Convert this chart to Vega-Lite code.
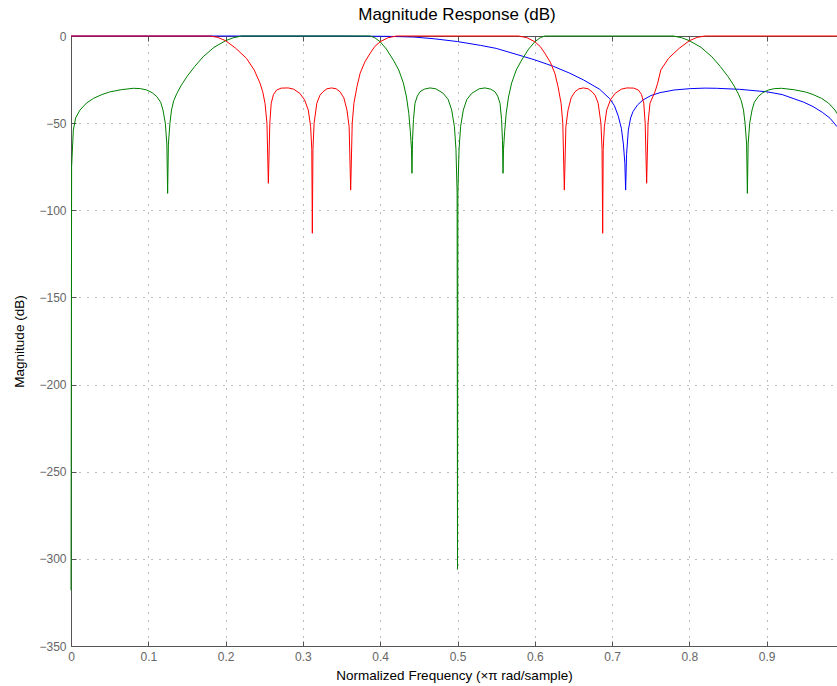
{
  "$schema": "https://vega.github.io/schema/vega-lite/v6.json",
  "width": 766,
  "height": 610,
  "autosize": "none",
  "padding": {"left": 71, "top": 36, "right": 0, "bottom": 40},
  "background": "white",
  "title": {"text": "Magnitude Response (dB)", "fontSize": 17, "font": "Liberation Sans", "fontWeight": "normal", "color": "black", "baseline": "alphabetic", "offset": -7, "dx": 3},
  "config": {"view": {"stroke": null}},
  "datasets": {
    "blue": [
      {"f":0,"m":0},{"f":0.1,"m":0},{"f":0.2,"m":0},{"f":0.3,"m":0},{"f":0.35,"m":0},{"f":0.38,"m":-0.1},{"f":0.41,"m":-0.2},{"f":0.4437,"m":-0.6},{"f":0.47,"m":-1.6},{"f":0.5,"m":-3.2},{"f":0.53,"m":-5.4},{"f":0.55,"m":-7.1},{"f":0.585,"m":-11.7},{"f":0.6,"m":-13.7},{"f":0.624,"m":-17.4},{"f":0.645,"m":-21.3},{"f":0.663,"m":-25.2},{"f":0.684,"m":-30.6},{"f":0.697,"m":-36},{"f":0.703,"m":-40},{"f":0.708,"m":-46},{"f":0.712,"m":-53},{"f":0.7146,"m":-62},{"f":0.7165,"m":-73},{"f":0.7175,"m":-88.4},{"f":0.7187,"m":-68},{"f":0.721,"m":-54},{"f":0.724,"m":-47},{"f":0.727,"m":-43.4},{"f":0.733,"m":-39.5},{"f":0.74,"m":-36.7},{"f":0.75,"m":-34.2},{"f":0.762,"m":-32.5},{"f":0.78,"m":-31},{"f":0.801,"m":-30.2},{"f":0.82,"m":-29.9},{"f":0.835,"m":-30},{"f":0.865,"m":-30.6},{"f":0.9,"m":-32},{"f":0.92,"m":-33.6},{"f":0.934,"m":-35.8},{"f":0.948,"m":-38},{"f":0.96,"m":-40.5},{"f":0.972,"m":-43.8},{"f":0.982,"m":-47.2},{"f":0.9909,"m":-52}
    ],
    "green": [
      {"f":0,"m":-318},{"f":0.0008,"m":-75},{"f":0.003,"m":-54},{"f":0.006,"m":-47},{"f":0.0116,"m":-42.5},{"f":0.02,"m":-38.5},{"f":0.029,"m":-35.8},{"f":0.04,"m":-33.6},{"f":0.05,"m":-32.1},{"f":0.065,"m":-30.8},{"f":0.081,"m":-30},{"f":0.09,"m":-30.2},{"f":0.098,"m":-31},{"f":0.105,"m":-32.5},{"f":0.111,"m":-34.8},{"f":0.116,"m":-38},{"f":0.119,"m":-42.5},{"f":0.122,"m":-50},{"f":0.124,"m":-62},{"f":0.125,"m":-90.3},{"f":0.126,"m":-62},{"f":0.128,"m":-50},{"f":0.13,"m":-42.5},{"f":0.133,"m":-37},{"f":0.137,"m":-32.9},{"f":0.143,"m":-28},{"f":0.15,"m":-23.3},{"f":0.16,"m":-17.5},{"f":0.171,"m":-11.9},{"f":0.185,"m":-6.5},{"f":0.2,"m":-2.7},{"f":0.21,"m":-1},{"f":0.221,"m":0},{"f":0.3,"m":0},{"f":0.387,"m":0},{"f":0.393,"m":-1},{"f":0.4,"m":-3.3},{"f":0.408,"m":-7.5},{"f":0.417,"m":-13.8},{"f":0.424,"m":-19.5},{"f":0.43,"m":-27},{"f":0.434,"m":-35},{"f":0.437,"m":-44.4},{"f":0.439,"m":-55},{"f":0.4405,"m":-65},{"f":0.4411,"m":-78.8},{"f":0.4418,"m":-60},{"f":0.443,"m":-48},{"f":0.445,"m":-38.6},{"f":0.448,"m":-34.5},{"f":0.4515,"m":-32},{"f":0.457,"m":-30.5},{"f":0.4644,"m":-29.8},{"f":0.472,"m":-30.3},{"f":0.4816,"m":-32.9},{"f":0.488,"m":-36.5},{"f":0.4925,"m":-42.5},{"f":0.496,"m":-52},{"f":0.498,"m":-65},{"f":0.4995,"m":-90},{"f":0.5,"m":-306},
      {"f":0.5005,"m":-90},{"f":0.502,"m":-65},{"f":0.504,"m":-52},{"f":0.5075,"m":-42.5},{"f":0.512,"m":-36.5},{"f":0.5184,"m":-32.9},{"f":0.528,"m":-30.3},{"f":0.5356,"m":-29.8},{"f":0.543,"m":-30.5},{"f":0.5485,"m":-32},{"f":0.552,"m":-34.5},{"f":0.555,"m":-38.6},{"f":0.557,"m":-48},{"f":0.5582,"m":-60},{"f":0.5589,"m":-78.8},{"f":0.5595,"m":-65},{"f":0.561,"m":-55},{"f":0.563,"m":-44.4},{"f":0.566,"m":-35},{"f":0.57,"m":-27},{"f":0.576,"m":-19.5},{"f":0.583,"m":-13.8},{"f":0.592,"m":-7.5},{"f":0.6,"m":-3.3},{"f":0.607,"m":-1},{"f":0.613,"m":0},{"f":0.7,"m":0},{"f":0.779,"m":0},{"f":0.79,"m":-1},{"f":0.8,"m":-2.7},{"f":0.815,"m":-6.5},{"f":0.829,"m":-11.9},{"f":0.84,"m":-17.5},{"f":0.85,"m":-23.3},{"f":0.857,"m":-28},{"f":0.863,"m":-32.9},{"f":0.867,"m":-37},{"f":0.87,"m":-42.5},{"f":0.872,"m":-50},{"f":0.874,"m":-62},{"f":0.875,"m":-90.3},{"f":0.876,"m":-62},{"f":0.878,"m":-50},{"f":0.881,"m":-42.5},{"f":0.884,"m":-38},{"f":0.889,"m":-34.8},{"f":0.895,"m":-32.5},{"f":0.902,"m":-31},{"f":0.91,"m":-30.2},{"f":0.919,"m":-30},{"f":0.935,"m":-30.8},{"f":0.95,"m":-32.1},{"f":0.96,"m":-33.6},{"f":0.971,"m":-35.8},{"f":0.98,"m":-38.5},{"f":0.9884,"m":-42.5},{"f":0.9909,"m":-44.5}
    ],
    "red": [
      {"f":0,"m":0},{"f":0.1,"m":0},{"f":0.18,"m":0},{"f":0.19,"m":-0.8},{"f":0.2,"m":-2.7},{"f":0.213,"m":-7},{"f":0.227,"m":-12.8},{"f":0.237,"m":-19.5},{"f":0.2445,"m":-27},{"f":0.248,"m":-32},{"f":0.251,"m":-38.6},{"f":0.2535,"m":-50},{"f":0.2553,"m":-84.5},{"f":0.2572,"m":-50},{"f":0.259,"m":-38.6},{"f":0.262,"m":-33.5},{"f":0.266,"m":-31},{"f":0.272,"m":-29.9},{"f":0.281,"m":-29.8},{"f":0.288,"m":-30.5},{"f":0.296,"m":-32.9},{"f":0.302,"m":-36.5},{"f":0.307,"m":-42.5},{"f":0.31,"m":-52},{"f":0.3115,"m":-65},{"f":0.3122,"m":-113.2},{"f":0.313,"m":-65},{"f":0.3145,"m":-50},{"f":0.318,"m":-38.6},{"f":0.322,"m":-34},{"f":0.326,"m":-32},{"f":0.331,"m":-30.3},{"f":0.337,"m":-29.8},{"f":0.343,"m":-30.3},{"f":0.348,"m":-32},{"f":0.353,"m":-35.5},{"f":0.357,"m":-42.5},{"f":0.3598,"m":-52},{"f":0.3618,"m":-88.4},{"f":0.3638,"m":-50},{"f":0.366,"m":-38.6},{"f":0.37,"m":-29},{"f":0.374,"m":-21.4},{"f":0.38,"m":-15},{"f":0.387,"m":-9.9},{"f":0.393,"m":-6},{"f":0.4,"m":-3.3},{"f":0.41,"m":-1},{"f":0.421,"m":0},{"f":0.5,"m":0},
      {"f":0.579,"m":0},{"f":0.59,"m":-1},{"f":0.6,"m":-3.3},{"f":0.607,"m":-6},{"f":0.613,"m":-9.9},{"f":0.62,"m":-15},{"f":0.626,"m":-21.4},{"f":0.63,"m":-29},{"f":0.634,"m":-38.6},{"f":0.6362,"m":-50},{"f":0.6382,"m":-88.4},{"f":0.6402,"m":-52},{"f":0.643,"m":-42.5},{"f":0.647,"m":-35.5},{"f":0.652,"m":-32},{"f":0.657,"m":-30.3},{"f":0.663,"m":-29.8},{"f":0.669,"m":-30.3},{"f":0.674,"m":-32},{"f":0.678,"m":-34},{"f":0.682,"m":-38.6},{"f":0.6855,"m":-50},{"f":0.687,"m":-65},{"f":0.6878,"m":-113.2},{"f":0.6885,"m":-65},{"f":0.69,"m":-52},{"f":0.693,"m":-42.5},{"f":0.698,"m":-36.5},{"f":0.704,"m":-32.9},{"f":0.712,"m":-30.5},{"f":0.719,"m":-29.8},{"f":0.728,"m":-29.9},{"f":0.734,"m":-31},{"f":0.738,"m":-33.5},{"f":0.741,"m":-38.6},{"f":0.7428,"m":-50},{"f":0.7447,"m":-84.5},{"f":0.7465,"m":-50},{"f":0.749,"m":-38.6},{"f":0.7555,"m":-32},{"f":0.759,"m":-27},{"f":0.763,"m":-19.5},{"f":0.773,"m":-12.8},{"f":0.787,"m":-7},{"f":0.8,"m":-2.7},{"f":0.81,"m":-0.8},{"f":0.82,"m":0},{"f":0.9,"m":0},{"f":0.9909,"m":0}
    ]
  },
  "layer": [
    {
      "data": {"name": "blue"},
      "mark": {"type": "line", "color": "#0000ff", "strokeWidth": 1},
      "encoding": {
        "x": {"field": "f", "type": "quantitative", "scale": {"domain": [0, 0.99094], "nice": false, "zero": false},
          "axis": {"orient": "bottom", "values": [0,0.1,0.2,0.3,0.4,0.5,0.6,0.7,0.8,0.9], "format": ".1~f", "title": "Normalized Frequency (×π rad/sample)",
            "grid": true, "gridDash": [1, 7], "gridColor": "#777", "gridWidth": 1,
            "domainColor": "#555", "tickColor": "#555", "tickSize": -5, "labelPadding": 10,
            "labelFont": "Liberation Sans", "labelFontSize": 12, "labelColor": "#666", "labelFlush": false, "labelOverlap": false,
            "titleFont": "Liberation Sans", "titleFontSize": 13.5, "titleFontWeight": "normal", "titleColor": "black", "titlePadding": 6}},
        "y": {"field": "m", "type": "quantitative", "scale": {"domain": [-350, 0], "nice": false, "zero": false},
          "axis": {"orient": "left", "values": [-350,-300,-250,-200,-150,-100,-50,0], "title": "Magnitude (dB)",
            "grid": true, "gridDash": [1, 7], "gridColor": "#777", "gridWidth": 1,
            "domainColor": "#555", "tickColor": "#555", "tickSize": -5, "labelPadding": 10,
            "labelFont": "Liberation Sans", "labelFontSize": 12, "labelColor": "#666", "labelFlush": false, "labelOverlap": false,
            "titleFont": "Liberation Sans", "titleFontSize": 13.5, "titleFontWeight": "normal", "titleColor": "black", "titlePadding": 12}}
      }
    },
    {
      "data": {"name": "green"},
      "mark": {"type": "line", "color": "#008000", "strokeWidth": 1},
      "encoding": {
        "x": {"field": "f", "type": "quantitative",
          "axis": {"orient": "top", "values": [0,0.1,0.2,0.3,0.4,0.5,0.6,0.7,0.8,0.9], "labels": false, "title": null, "grid": false,
            "domainColor": "#555", "tickColor": "#555", "tickSize": -5}},
        "y": {"field": "m", "type": "quantitative"}
      }
    },
    {
      "data": {"name": "red"},
      "mark": {"type": "line", "color": "#ff0000", "strokeWidth": 1},
      "encoding": {
        "x": {"field": "f", "type": "quantitative", "axis": null},
        "y": {"field": "m", "type": "quantitative"}
      }
    }
  ],
  "resolve": {"axis": {"x": "independent"}}
}
